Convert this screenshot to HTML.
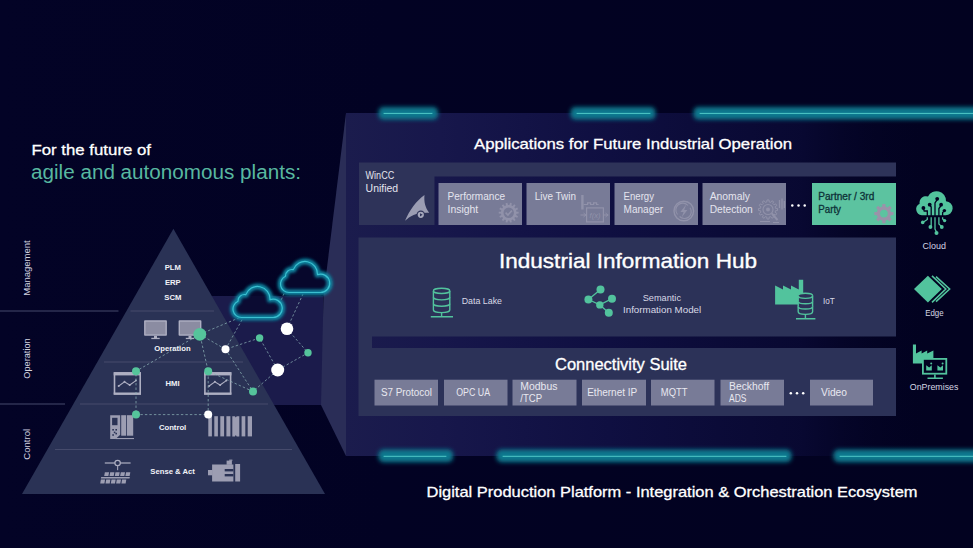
<!DOCTYPE html>
<html>
<head>
<meta charset="utf-8">
<title>Digital Production Platform</title>
<style>
  html, body { margin:0; padding:0; background:#020222; }
  body { width:973px; height:548px; overflow:hidden; font-family:"Liberation Sans", sans-serif; }
  svg { display:block; }
  text { font-family:"Liberation Sans", sans-serif; }
</style>
</head>
<body>
<svg width="973" height="548" viewBox="0 0 973 548">
  <defs>
    <linearGradient id="bg" x1="0" y1="0" x2="1" y2="0">
      <stop offset="0" stop-color="#030326"/>
      <stop offset="0.4" stop-color="#020223"/>
      <stop offset="1" stop-color="#020220"/>
    </linearGradient>
    <linearGradient id="front" gradientUnits="userSpaceOnUse" x1="346" y1="0" x2="930" y2="0">
      <stop offset="0" stop-color="#1b1c4d"/>
      <stop offset="0.16" stop-color="#17174b"/>
      <stop offset="0.45" stop-color="#0f0f41"/>
      <stop offset="0.78" stop-color="#090933" stop-opacity="0.9"/>
      <stop offset="1" stop-color="#020221" stop-opacity="0"/>
    </linearGradient>
    <filter id="glow" x="-20%" y="-300%" width="140%" height="700%">
      <feGaussianBlur stdDeviation="1.9"/>
    </filter>
    <filter id="cglow" x="-30%" y="-30%" width="160%" height="160%">
      <feGaussianBlur stdDeviation="1.7"/>
    </filter>
  </defs>

  <!-- background -->
  <rect x="0" y="0" width="973" height="548" fill="url(#bg)"/>

  <!-- SECTION: projection + 3D panel -->
  <g id="panel">
    <rect x="200" y="296" width="123" height="109" fill="#1b1b4b"/>
    <polygon points="346,113 346,456 321,405 323.5,296" fill="#2a2d57"/>
    <rect x="346" y="113" width="584" height="343" fill="url(#front)"/>
  </g>

  <!-- SECTION: glow bars -->
  <g id="glowbars">
    <g filter="url(#glow)" fill="#10788e">
      <rect x="378.5" y="107" width="59.5" height="12.6" rx="5"/>
      <rect x="570.5" y="107" width="85" height="12.6" rx="5"/>
      <rect x="693.5" y="107" width="290" height="12.6" rx="5"/>
      <rect x="378.5" y="449.6" width="74.5" height="12.6" rx="5"/>
      <rect x="496.5" y="449.6" width="295" height="12.6" rx="5"/>
      <rect x="833.5" y="449.6" width="150" height="12.6" rx="5"/>
    </g>
    <g stroke="#50c9c8" stroke-width="1" stroke-linecap="round">
      <line x1="384" y1="113.4" x2="432" y2="113.4"/>
      <line x1="577" y1="113.4" x2="650" y2="113.4"/>
      <line x1="700" y1="113.4" x2="973" y2="113.4"/>
      <line x1="384" y1="456.3" x2="446" y2="456.3"/>
      <line x1="503" y1="456.3" x2="786" y2="456.3"/>
      <line x1="840" y1="456.3" x2="973" y2="456.3"/>
    </g>
  </g>

  <!-- SECTION: app row -->
  <g id="approw">
    <path d="M359,162.5 H896 V176.5 H434.5 V225 H359 Z" fill="#2e3359"/>
    <g fill="#787b97">
      <rect x="438.5" y="183" width="83.5" height="42"/>
      <rect x="526.5" y="183" width="83.5" height="42"/>
      <rect x="614.5" y="183" width="83.5" height="42"/>
      <rect x="702.5" y="183" width="83.5" height="42"/>
    </g>
    <rect x="812" y="183" width="84" height="42" fill="#5cc3a0"/>
    <g font-size="10" fill="#e4e4ee">
      <text x="365.6" y="179.3" textLength="28.6" lengthAdjust="spacingAndGlyphs">WinCC</text>
      <text x="365.6" y="191.6" textLength="32.5" lengthAdjust="spacingAndGlyphs">Unified</text>
      <text x="447.5" y="199.7" textLength="57.5" lengthAdjust="spacingAndGlyphs">Performance</text>
      <text x="447.5" y="212.7" textLength="30.7" lengthAdjust="spacingAndGlyphs">Insight</text>
      <text x="534.8" y="199.7" textLength="41.2" lengthAdjust="spacingAndGlyphs">Live Twin</text>
      <text x="623.6" y="199.7" textLength="30.4" lengthAdjust="spacingAndGlyphs">Energy</text>
      <text x="623.6" y="212.7" textLength="39.5" lengthAdjust="spacingAndGlyphs">Manager</text>
      <text x="709.7" y="199.7" textLength="40.3" lengthAdjust="spacingAndGlyphs">Anomaly</text>
      <text x="709.7" y="212.7" textLength="43.1" lengthAdjust="spacingAndGlyphs">Detection</text>
    </g>
    <g font-size="10" fill="#0d3238" stroke="#0d3238" stroke-width="0.3">
      <text x="818.2" y="200.1" textLength="56.1" lengthAdjust="spacingAndGlyphs">Partner / 3rd</text>
      <text x="818.2" y="213" textLength="22.8" lengthAdjust="spacingAndGlyphs">Party</text>
    </g>
    <!-- ICONS: approw -->
    <g id="appicons">
    <g>
      <path d="M424.5,194.9 C416.5,200.5 409.5,210 405,220.8 C410.5,215.5 416.5,212.2 429.2,212.7 C425.2,207.5 423.8,201.5 424.5,194.9 Z" fill="#9b9db3"/>
      <circle cx="420.8" cy="214.8" r="4.2" fill="#2e3359"/>
      <circle cx="420.8" cy="214.8" r="3.1" fill="#a6a8bc"/>
      <path d="M420,213.2 L422.6,214.8 L420,216.4 Z" fill="#2e3359"/>
    </g>
    <g fill="#9192aa">
      <path d="M516.43,211.65 L518.66,211.80 L518.66,213.60 L516.43,213.75 L516.12,215.11 L518.06,216.21 L517.28,217.83 L515.21,217.00 L514.34,218.09 L515.61,219.93 L514.21,221.05 L512.70,219.40 L511.44,220.00 L511.79,222.21 L510.04,222.61 L509.40,220.47 L508.00,220.47 L507.36,222.61 L505.61,222.21 L505.96,220.00 L504.70,219.40 L503.19,221.05 L501.79,219.93 L503.06,218.09 L502.19,217.00 L500.12,217.83 L499.34,216.21 L501.28,215.11 L500.97,213.75 L498.74,213.60 L498.74,211.80 L500.97,211.65 L501.28,210.29 L499.34,209.19 L500.12,207.57 L502.19,208.40 L503.06,207.31 L501.79,205.47 L503.19,204.35 L504.70,206.00 L505.96,205.40 L505.61,203.19 L507.36,202.79 L508.00,204.93 L509.40,204.93 L510.04,202.79 L511.79,203.19 L511.44,205.40 L512.70,206.00 L514.21,204.35 L515.61,205.47 L514.34,207.31 L515.21,208.40 L517.28,207.57 L518.06,209.19 L516.12,210.29 Z"/>
      <circle cx="508.7" cy="212.7" r="5.2" fill="#787b97"/>
      <path d="M505.6,212.6 L507.9,215 L511.9,210.6" fill="none" stroke="#9192aa" stroke-width="1.6"/>
    </g>
    <g fill="none" stroke="#9192aa" stroke-width="1.2">
      <rect x="581.2" y="195" width="2.4" height="14.5" fill="#9192aa" stroke="none"/>
      <path d="M583.6,204.5 h4 v-1.6 h3 v1.6 h3 v-1.6 h3 v1.6 h2" />
      <rect x="586.6" y="207.9" width="16.8" height="14"/>
      <path d="M580.5,215 h6 M603.4,215 h5"/>
      <path d="M605.5,213 l2.5,2 l-2.5,2 M583.5,213 l2.5,2 l-2.5,2" stroke-width="0.9"/>
      <text x="595" y="218.2" font-size="7.5" font-style="italic" text-anchor="middle" fill="#9192aa" stroke="none">f(x)</text>
    </g>
    <g fill="none" stroke="#9192aa" stroke-width="1.4">
      <circle cx="683.8" cy="211" r="9.8"/>
      <path d="M677.5,214.5 A6.8,6.8 0 0 1 688,205.5 M690,207.8 A6.8,6.8 0 0 1 679.6,216.5" stroke-width="1.1"/>
      <path d="M686.2,204.6 L680.4,212 h3.2 L681.6,217.6 L687.4,210 h-3.2 Z" fill="#9192aa" stroke="none"/>
    </g>
    <g fill="none" stroke="#9192aa" stroke-width="1.1">
      <path d="M775.51,208.31 L777.55,208.50 L777.55,210.50 L775.51,210.69 L775.10,212.22 L776.77,213.40 L775.77,215.14 L773.91,214.28 L772.78,215.41 L773.64,217.27 L771.90,218.27 L770.72,216.60 L769.19,217.01 L769.00,219.05 L767.00,219.05 L766.81,217.01 L765.28,216.60 L764.10,218.27 L762.36,217.27 L763.22,215.41 L762.09,214.28 L760.23,215.14 L759.23,213.40 L760.90,212.22 L760.49,210.69 L758.45,210.50 L758.45,208.50 L760.49,208.31 L760.90,206.78 L759.23,205.60 L760.23,203.86 L762.09,204.72 L763.22,203.59 L762.36,201.73 L764.10,200.73 L765.28,202.40 L766.81,201.99 L767.00,199.95 L769.00,199.95 L769.19,201.99 L770.72,202.40 L771.90,200.73 L773.64,201.73 L772.78,203.59 L773.91,204.72 L775.77,203.86 L776.77,205.60 L775.10,206.78 Z" stroke-width="1"/>
      <circle cx="768" cy="209.5" r="5"/>
      <circle cx="768" cy="209.5" r="2" fill="#9192aa" stroke="none"/>
      <path d="M771.8,213.4 L777.5,220" stroke-width="2"/>
      <path d="M779.5,200 v8 M782,198.5 v11 M784.3,201 v7" stroke-width="1.3"/>
      <path d="M760,221.5 h10 M773,222.5 h6" stroke-width="1.2"/>
    </g>
    <g>
      <path d="M890.90,211.92 L893.48,212.08 L893.48,215.12 L890.90,215.28 L890.04,217.36 L891.75,219.30 L889.60,221.45 L887.66,219.74 L885.58,220.60 L885.42,223.18 L882.38,223.18 L882.22,220.60 L880.14,219.74 L878.20,221.45 L876.05,219.30 L877.76,217.36 L876.90,215.28 L874.32,215.12 L874.32,212.08 L876.90,211.92 L877.76,209.84 L876.05,207.90 L878.20,205.75 L880.14,207.46 L882.22,206.60 L882.38,204.02 L885.42,204.02 L885.58,206.60 L887.66,207.46 L889.60,205.75 L891.75,207.90 L890.04,209.84 Z" fill="#9a93a9"/>
      <circle cx="883.9" cy="213.6" r="3.9" fill="#5cc3a0"/>
    </g>
    </g>
    <g fill="#ffffff"><circle cx="792.3" cy="205.5" r="1.25"/><circle cx="798.5" cy="205.5" r="1.25"/><circle cx="804.7" cy="205.5" r="1.25"/></g>
  </g>

  <!-- SECTION: hub -->
  <g id="hub">
    <path d="M358.5,237.5 H896 V336.5 H372 V348 H896 V416 H358.5 Z" fill="#2c3258"/>
    <text x="628" y="268" font-size="21" fill="#ffffff" stroke="#ffffff" stroke-width="0.35" text-anchor="middle" textLength="258" lengthAdjust="spacingAndGlyphs">Industrial Information Hub</text>
    <g font-size="9.3" fill="#d9d9e6">
      <text x="461.7" y="303.5" textLength="40.3" lengthAdjust="spacingAndGlyphs">Data Lake</text>
      <text x="642.7" y="300.8" textLength="38.3" lengthAdjust="spacingAndGlyphs">Semantic</text>
      <text x="623" y="312.9" textLength="78.2" lengthAdjust="spacingAndGlyphs">Information Model</text>
      <text x="823" y="303.8" textLength="11.8" lengthAdjust="spacingAndGlyphs">IoT</text>
    </g>
    <!-- ICONS: hub -->
    <g id="hubicons">
    <g><g fill="none" stroke="#52c39d" stroke-width="1.4"><path d="M433.4,290.90000000000003 v19.100000000000012 a8.200000000000017,2.6 0 0 0 16.400000000000034,0 v-19.100000000000012 a8.200000000000017,2.6 0 0 0 -16.400000000000034,0 Z"/><path d="M433.4,290.90000000000003 a8.200000000000017,2.6 0 0 0 16.400000000000034,0"/><path d="M433.4,297.27 a8.200000000000017,2.6 0 0 0 16.400000000000034,0"/><path d="M433.4,303.63 a8.200000000000017,2.6 0 0 0 16.400000000000034,0"/></g>
      <path d="M441.6,312.6 v3.6 M430.8,316.7 h22.2" stroke="#52c39d" stroke-width="1.4" fill="none"/>
    </g>
    <g>
      <path d="M588.4,299.5 L600.5,289.4 M588.4,299.5 L599.8,304.9 L612,298.7 M599.8,304.9 L608.8,312.7" stroke="#52c39d" stroke-width="1.3" fill="none"/>
      <g fill="#52c39d"><circle cx="600.5" cy="289.4" r="4"/><circle cx="588.4" cy="299.5" r="4"/><circle cx="612" cy="298.7" r="4"/><circle cx="599.8" cy="304.9" r="3.7"/><circle cx="608.8" cy="312.7" r="4"/></g>
    </g>
    <g>
      <path d="M775.1,304.5 V285.5 L783,289.6 V285.5 L791,289.6 V285.5 L798.8,289.6 V279.8 H803.2 V304.5 Z" fill="#52c39d"/>
      <g fill="#2c3258" stroke="#52c39d" stroke-width="1.4"><path d="M798.2,295.8 v15.99999999999999 a7.199999999999989,2.6 0 0 0 14.399999999999977,0 v-15.99999999999999 a7.199999999999989,2.6 0 0 0 -14.399999999999977,0 Z"/><path d="M798.2,295.8 a7.199999999999989,2.6 0 0 0 14.399999999999977,0"/><path d="M798.2,301.13 a7.199999999999989,2.6 0 0 0 14.399999999999977,0"/><path d="M798.2,306.47 a7.199999999999989,2.6 0 0 0 14.399999999999977,0"/></g>
      <path d="M805.4000000000001,314.4 v3.8 M796,318.8 h19.4" stroke="#52c39d" stroke-width="1.4" fill="none"/>
    </g>
    </g>
  </g>

  <!-- SECTION: connectivity -->
  <g id="conn">
    <text x="621" y="369.5" font-size="16" fill="#ffffff" stroke="#ffffff" stroke-width="0.3" text-anchor="middle" textLength="132" lengthAdjust="spacingAndGlyphs">Connectivity Suite</text>
    <g fill="#787b97">
      <rect x="374.5" y="379.7" width="63.5" height="25.8"/>
      <rect x="444" y="379.7" width="63.5" height="25.8"/>
      <rect x="512.5" y="379.7" width="64" height="25.8"/>
      <rect x="582" y="379.7" width="64" height="25.8"/>
      <rect x="651" y="379.7" width="63.5" height="25.8"/>
      <rect x="720.5" y="379.7" width="63.5" height="25.8"/>
      <rect x="810" y="379.7" width="63" height="25.8"/>
    </g>
    <g font-size="10" fill="#e8e8f0">
      <text x="380.9" y="396.4" textLength="51" lengthAdjust="spacingAndGlyphs">S7 Protocol</text>
      <text x="456.2" y="396.4" textLength="33.9" lengthAdjust="spacingAndGlyphs">OPC UA</text>
      <text x="520.3" y="389.5" textLength="37.1" lengthAdjust="spacingAndGlyphs">Modbus</text>
      <text x="520.3" y="402.3" textLength="21.8" lengthAdjust="spacingAndGlyphs">/TCP</text>
      <text x="587.2" y="396.4" textLength="50" lengthAdjust="spacingAndGlyphs">Ethernet IP</text>
      <text x="660.8" y="396.4" textLength="26.7" lengthAdjust="spacingAndGlyphs">MQTT</text>
      <text x="729.1" y="389.5" textLength="39.9" lengthAdjust="spacingAndGlyphs">Beckhoff</text>
      <text x="729.1" y="402.3" textLength="17.4" lengthAdjust="spacingAndGlyphs">ADS</text>
      <text x="821" y="396.4" textLength="26" lengthAdjust="spacingAndGlyphs">Video</text>
    </g>
    <g fill="#ffffff"><circle cx="790.8" cy="393.3" r="1.25"/><circle cx="797" cy="393.3" r="1.25"/><circle cx="803.2" cy="393.3" r="1.25"/></g>
  </g>

  <!-- SECTION: right icons -->
  <g id="righticons">
    <g>
      <path d="M921.8,215.2 A6,6 0 0 1 919.6,203.8 A6.5,6.5 0 0 1 928,196.5 A9.5,9.5 0 0 1 946,201.2 A7,7 0 0 1 945.3,215.2 Z" fill="#52c39d"/>
      <g stroke="#020221" stroke-width="1.3" fill="none">
        <path d="M935,216 V203 L937.2,199.6"/>
        <path d="M931.2,216 V207 L929.7,205"/>
        <path d="M938.9,216 V208.5 L941.1,205.5"/>
        <path d="M927.3,216 V211 H924.2 L923.4,208.6"/>
        <path d="M942.6,216 V212.5 L944.4,211"/>
      </g>
      <g fill="#020221"><circle cx="937.2" cy="198.8" r="1.9"/><circle cx="929.7" cy="204.7" r="1.9"/><circle cx="941.1" cy="204.7" r="1.9"/><circle cx="923.4" cy="208" r="1.9"/><circle cx="944.4" cy="210.6" r="1.7"/></g>
      <g stroke="#52c39d" stroke-width="1.3" fill="none">
        <path d="M927.3,217.2 V219.5 L923.5,222"/>
        <path d="M931.2,217.2 V226"/>
        <path d="M935,217.2 V229 L936.5,232"/>
        <path d="M938.9,217.2 V224 L941.6,226.6"/>
        <path d="M942.6,217.2 V219 L944.4,220.4"/>
      </g>
      <g fill="#52c39d"><circle cx="922.7" cy="222.4" r="1.8"/><circle cx="930.4" cy="227" r="1.9"/><circle cx="936.5" cy="232.9" r="2"/><circle cx="941.8" cy="227" r="1.9"/><circle cx="944.6" cy="220.6" r="1.7"/></g>
    </g>
    <g>
      <path d="M914,289 L927.9,275.7 L941.8,289 L927.9,302.5 Z" fill="#52c39d"/>
      <path d="M932,275.9 L945.8,289 L932,302.3 M936,276.6 L949.6,289 L936,301.6" fill="none" stroke="#52c39d" stroke-width="1.6"/>
    </g>
    <g>
      <path d="M912.9,363.6 V344.4 H916 V353.4 L921.6,350.6 V353.4 L927.2,350.6 V353.4 L933.4,350.6 V363.6 Z" fill="#52c39d"/>
      <rect x="922.9" y="358.9" width="23.4" height="14.8" fill="#020221" stroke="#52c39d" stroke-width="1.8"/>
      <path d="M934.9,374.4 v3.2 M927.5,378.2 h15.4" stroke="#52c39d" stroke-width="1.6" fill="none"/>
      <g fill="#52c39d">
        <path d="M926.2,370.6 v-5.4 l3,2.2 l2.6,-2.2 v5.4 Z"/>
        <path d="M937.4,370.6 v-5.4 l3,2.2 l2.6,-2.2 v5.4 Z"/>
        <circle cx="931.2" cy="363.4" r="1"/><circle cx="942.6" cy="363.4" r="1"/>
      </g>
    </g>
    <g font-size="9.3" fill="#d6d6e4">
      <text x="922.6" y="248.5" textLength="23.3" lengthAdjust="spacingAndGlyphs">Cloud</text>
      <text x="925.2" y="315.8" textLength="18.4" lengthAdjust="spacingAndGlyphs">Edge</text>
      <text x="909.8" y="389.9" textLength="48.6" lengthAdjust="spacingAndGlyphs">OnPremises</text>
    </g>
  </g>

  <!-- SECTION: pyramid -->
  <g id="pyramid">
    <polygon points="173.4,228.8 325,494 22,494" fill="#2a3255"/>
    <g stroke="#464b6c" stroke-width="1" fill="none">
      <line x1="0" y1="311" x2="118.5" y2="311"/>
      <line x1="0" y1="404" x2="65" y2="404"/>
      <line x1="130.5" y1="311" x2="214" y2="311"/>
      <line x1="104" y1="362" x2="243" y2="362"/>
      <line x1="80" y1="404" x2="268" y2="404"/>
      <line x1="55" y1="449.5" x2="292" y2="449.5"/>
    </g>
    <g font-size="9.9" fill="#d4d4e0" text-anchor="middle">
      <text transform="translate(30.4,268) rotate(-90)" textLength="55.5" lengthAdjust="spacingAndGlyphs">Management</text>
      <text transform="translate(30.4,358.5) rotate(-90)" textLength="40.3" lengthAdjust="spacingAndGlyphs">Operation</text>
      <text transform="translate(30.4,444.3) rotate(-90)" textLength="30.8" lengthAdjust="spacingAndGlyphs">Control</text>
    </g>
    <g font-size="7.7" font-weight="bold" fill="#f2f2f8" text-anchor="middle">
      <text x="172.8" y="269.8">PLM</text>
      <text x="172.8" y="284.8">ERP</text>
      <text x="172.8" y="299.7">SCM</text>
      <text x="172.5" y="350.7">Operation</text>
      <text x="172.5" y="385.8">HMI</text>
      <text x="172.6" y="429.7">Control</text>
      <text x="172.6" y="474.3">Sense &amp; Act</text>
    </g>
    <!-- ICONS: pyramid -->
    <g id="pyricons">
      <g>
        <rect x="144.1" y="320.3" width="22.8" height="15.5" rx="0.8" fill="#aeafc2"/>
        <rect x="145.5" y="321.7" width="20" height="12.7" fill="#8b8ca2"/>
        <rect x="154.0" y="335.8" width="3" height="2.2" fill="#aeafc2"/>
        <rect x="151.29999999999998" y="337.8" width="8.4" height="1.3" fill="#aeafc2"/>
      </g>
      <g>
        <rect x="178.6" y="320.3" width="22.8" height="15.5" rx="0.8" fill="#aeafc2"/>
        <rect x="180.0" y="321.7" width="20" height="12.7" fill="#8b8ca2"/>
        <rect x="188.5" y="335.8" width="3" height="2.2" fill="#aeafc2"/>
        <rect x="185.79999999999998" y="337.8" width="8.4" height="1.3" fill="#aeafc2"/>
      </g>
      <g>
        <rect x="114.5" y="373.0" width="25.7" height="20.9" fill="none" stroke="#aeafc2" stroke-width="1.6"/>
        <rect x="113.7" y="372.2" width="27.3" height="3.2" fill="#aeafc2"/>
        <rect x="113.7" y="392.5" width="27.3" height="2.2" fill="#aeafc2"/>
        <polyline points="118.7,386.0 124.5,381.8 129.7,385.0 135.9,380.59999999999997" fill="none" stroke="#aeafc2" stroke-width="1.1"/>
        <g fill="#aeafc2"><circle cx="118.7" cy="386.0" r="1"/><circle cx="124.5" cy="381.8" r="1"/><circle cx="129.7" cy="385.0" r="1"/><circle cx="135.9" cy="380.59999999999997" r="1"/></g>
      </g>
      <g>
        <rect x="204.9" y="373.0" width="25.7" height="20.9" fill="none" stroke="#aeafc2" stroke-width="1.6"/>
        <rect x="204.1" y="372.2" width="27.3" height="3.2" fill="#aeafc2"/>
        <rect x="204.1" y="392.5" width="27.3" height="2.2" fill="#aeafc2"/>
        <polyline points="209.1,386.0 214.9,381.8 220.1,385.0 226.29999999999998,380.59999999999997" fill="none" stroke="#aeafc2" stroke-width="1.1"/>
        <g fill="#aeafc2"><circle cx="209.1" cy="386.0" r="1"/><circle cx="214.9" cy="381.8" r="1"/><circle cx="220.1" cy="385.0" r="1"/><circle cx="226.29999999999998" cy="380.59999999999997" r="1"/></g>
      </g>
      <g fill="#9c9db2">
        <path d="M110.2,415.2 h10 v19.5 l-4.6,4.4 h-5.4 Z"/>
        <rect x="121.2" y="415.2" width="5" height="20.5"/>
        <rect x="127" y="415.2" width="6.2" height="20.5"/>
        <rect x="115.5" y="438" width="18.5" height="1.1"/>
        <rect x="112.1" y="417.8" width="5.4" height="7.4" fill="#2a3255"/>
        <g fill="#2a3255"><rect x="112.3" y="429" width="1.6" height="1.6"/><rect x="115.4" y="429" width="1.6" height="1.6"/><rect x="113.8" y="431.6" width="1.6" height="1.6"/><rect x="112.3" y="434.2" width="1.6" height="1.6"/><rect x="115.4" y="432.8" width="1.6" height="1.6"/></g>
      </g>
      <g fill="#9c9db2"><rect x="208.3" y="416.2" width="3.6" height="20.2"/><rect x="214.3" y="416.2" width="3.6" height="20.2"/><rect x="220.3" y="416.2" width="3.8" height="20.2"/><rect x="226.4" y="416.2" width="4" height="20.2"/><rect x="241.6" y="416.2" width="3.7" height="20.2"/><rect x="247.7" y="416.2" width="4.3" height="20.2"/>
        <path d="M232.3,416.2 h2.6 l0.9,1.4 l0.9,-1.4 h2.6 v20.2 h-2.6 l-0.9,-1.4 l-0.9,1.4 h-2.6 Z"/>
      </g>
      <g fill="#9c9db2">
        <rect x="104.8" y="462.3" width="25.8" height="1.4"/>
        <circle cx="117.6" cy="463" r="2.7" fill="#2a3255" stroke="#aeafc2" stroke-width="1.2"/>
        <rect x="117" y="465.8" width="1.2" height="4.4"/>
        <path d="M104.9,472.2 h4.2 l-0.7,3.8 h-4.2 Z"/><path d="M110.2,472.2 h4.2 l-0.7,3.8 h-4.2 Z"/><path d="M115.5,472.2 h4.2 l-0.7,3.8 h-4.2 Z"/><path d="M120.8,472.2 h4.2 l-0.7,3.8 h-4.2 Z"/><path d="M126.1,472.2 h4.2 l-0.7,3.8 h-4.2 Z"/>
        <path d="M101.2,477 h28.6 l-0.3,1.5 h-28.6 Z"/>
        <path d="M100.9,479.6 h4.2 l-0.7,3.8 h-4.2 Z"/><path d="M106.2,479.6 h4.2 l-0.7,3.8 h-4.2 Z"/><path d="M111.5,479.6 h4.2 l-0.7,3.8 h-4.2 Z"/><path d="M116.8,479.6 h4.2 l-0.7,3.8 h-4.2 Z"/><path d="M122.1,479.6 h4.2 l-0.7,3.8 h-4.2 Z"/>
      </g>
      <g fill="#9c9db2">
        <rect x="208" y="470" width="4.6" height="5.3"/>
        <rect x="212.1" y="464.5" width="21.3" height="17"/>
        <rect x="235.2" y="464" width="4.9" height="17.5"/>
        <rect x="226.6" y="460.6" width="5.3" height="4.2"/>
        <rect x="229.2" y="459.6" width="3.2" height="1.2"/>
        <g fill="#2a3255"><rect x="224.7" y="469" width="8.7" height="2.4"/><rect x="224.7" y="474" width="8.7" height="2.4"/></g>
      </g>
    </g>
  </g>

  <!-- SECTION: network -->
  <g id="network">
    <g stroke="#8fb5b8" stroke-width="0.85" stroke-dasharray="2.4 2.1" fill="none" opacity="0.85">
      <path d="M199.8,334.3 L136,371.2 L136,414.6 L208.2,414.6 L208.2,371.2 Z"/>
      <path d="M199.8,334.3 L225.5,349.3 L259.6,338 L277.7,370 L253,391.5 L208.2,371.2"/>
      <path d="M225.5,349.3 L253,391.5"/>
      <path d="M287,328.8 L308,352.8 L277.7,370"/>
      <path d="M199.8,334.3 L241,317"/>
      <path d="M225.5,349.3 L243,318"/>
      <path d="M287,328.8 L303,294"/>
      <path d="M284,293.5 L280.5,301.5"/>
    </g>
    <g fill="#55c49b">
      <circle cx="199.8" cy="334.3" r="6.4"/>
      <circle cx="259.6" cy="338" r="3.7"/>
      <circle cx="308" cy="352.8" r="3.7"/>
      <circle cx="253" cy="391.5" r="4"/>
      <circle cx="136" cy="371.2" r="4"/>
      <circle cx="208.2" cy="371.2" r="4"/>
      <circle cx="136" cy="414.6" r="4"/>
    </g>
    <g fill="#ffffff">
      <circle cx="225.5" cy="349.3" r="4"/>
      <circle cx="287" cy="328.8" r="6.3"/>
      <circle cx="277.7" cy="370" r="6.5"/>
      <circle cx="208.2" cy="414.6" r="4"/>
    </g>
    <!-- clouds -->
    <g id="clouds">
      <defs><path id="cl" d="M8.5,31 A8.5,8.5 0 0 1 5.00,14.75 A6.5,6.5 0 0 1 12.79,8.13 A12.5,12.5 0 0 1 36.99,13.11 A9.2,9.2 0 1 1 40.00,31.00 Z"/></defs>
      <g fill="#08082e" fill-opacity="0.85" stroke="none">
        <use href="#cl" x="233" y="286.5"/>
        <use href="#cl" x="280.5" y="261.5"/>
      </g>
      <g fill="none" stroke-linejoin="round">
        <g filter="url(#cglow)" stroke="#0f8aa5" stroke-width="6" opacity="0.95">
          <use href="#cl" x="233" y="286.5"/>
          <use href="#cl" x="280.5" y="261.5"/>
        </g>
        <g stroke="#3bbfd0" stroke-width="1.2">
          <use href="#cl" x="233" y="286.5"/>
          <use href="#cl" x="280.5" y="261.5"/>
        </g>
      </g>
    </g>
  </g>

  <!-- SECTION: headings -->
  <g id="headings">
    <text x="31.5" y="155.3" font-size="15.4" fill="#ffffff" stroke="#ffffff" stroke-width="0.3" textLength="119.5" lengthAdjust="spacingAndGlyphs">For the future of</text>
    <text x="31" y="179" font-size="19.6" fill="#58b8a0" textLength="270" lengthAdjust="spacingAndGlyphs">agile and autonomous plants:</text>
    <text x="633" y="148.5" font-size="15" fill="#ffffff" stroke="#ffffff" stroke-width="0.3" text-anchor="middle" textLength="318" lengthAdjust="spacingAndGlyphs">Applications for Future Industrial Operation</text>
    <text x="672" y="497" font-size="15" fill="#ffffff" stroke="#ffffff" stroke-width="0.3" text-anchor="middle" textLength="491" lengthAdjust="spacingAndGlyphs">Digital Production Platform - Integration &amp; Orchestration Ecosystem</text>
  </g>
</svg>
</body>
</html>
